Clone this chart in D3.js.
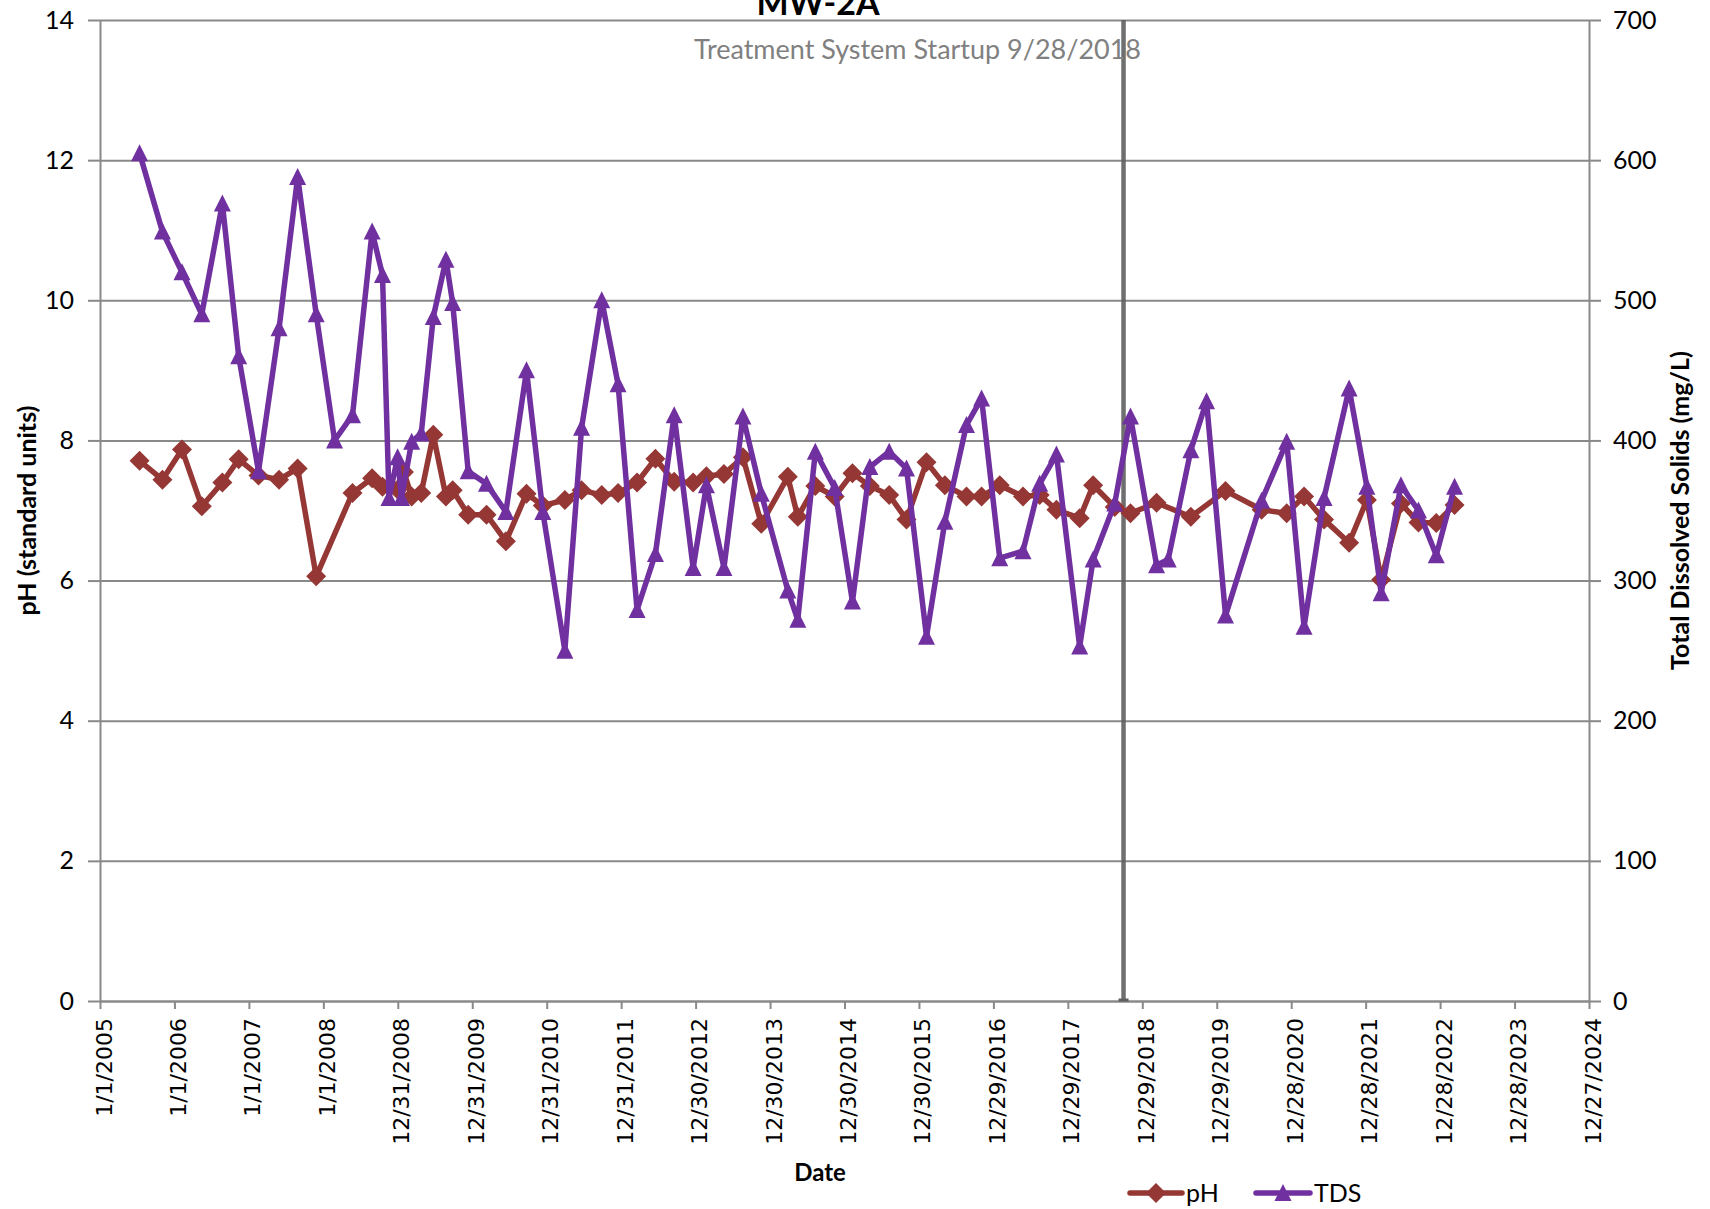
<!DOCTYPE html>
<html><head><meta charset="utf-8">
<script src="https://cdn.jsdelivr.net/npm/d3@7"></script>
<style>html,body{margin:0;padding:0;background:#fff;overflow:hidden}</style>
</head><body>
<svg id="chart" width="1710" height="1209" xmlns="http://www.w3.org/2000/svg"></svg>
<script>
// ---------------- data ----------------
const chartTitle = "MW-2A";
const startupNote = "Treatment System Startup 9/28/2018";
const startupDate = "2018-09-28";

const xTickLabels = ["1/1/2005","1/1/2006","1/1/2007","1/1/2008","12/31/2008","12/31/2009","12/31/2010",
  "12/31/2011","12/30/2012","12/30/2013","12/30/2014","12/30/2015","12/29/2016","12/29/2017",
  "12/29/2018","12/29/2019","12/28/2020","12/28/2021","12/28/2022","12/28/2023","12/27/2024"];
const yLeftTicks = [0,2,4,6,8,10,12,14];
const yRightTicks = [0,100,200,300,400,500,600,700];

const phDates = ["2005-07-14","2005-11-03","2006-02-07","2006-05-15","2006-08-24","2006-11-12","2007-02-17","2007-05-29","2007-08-28","2007-11-27",
  "2008-05-23","2008-08-27","2008-10-17","2008-12-30","2009-01-30","2009-03-09","2009-04-25","2009-06-23","2009-08-24","2009-09-26",
  "2009-12-11","2010-03-11","2010-06-14","2010-09-23","2010-12-12","2011-03-30","2011-06-20","2011-09-27","2011-12-16","2012-03-18",
  "2012-06-16","2012-09-16","2012-12-18","2013-02-21","2013-05-18","2013-08-19","2013-11-17","2014-03-27","2014-05-15","2014-08-09",
  "2014-11-12","2015-02-07","2015-05-03","2015-08-06","2015-10-30","2016-02-05","2016-05-05","2016-08-19","2016-11-01","2017-01-29",
  "2017-05-23","2017-08-13","2017-11-03","2018-02-25","2018-05-02","2018-08-16","2018-11-01","2019-03-09","2019-08-24","2020-02-10",
  "2020-08-05","2020-12-06","2021-03-01","2021-06-07","2021-10-08","2022-01-03","2022-03-14","2022-06-19","2022-09-13","2022-12-09",
  "2023-03-09"];
const phValues = [7.71,7.44,7.87,7.06,7.40,7.73,7.50,7.44,7.60,6.06,
  7.25,7.46,7.34,7.30,7.55,7.20,7.25,8.08,7.20,7.29,
  6.94,6.94,6.56,7.24,7.07,7.15,7.29,7.22,7.25,7.40,
  7.74,7.41,7.40,7.49,7.52,7.76,6.81,7.48,6.91,7.35,
  7.20,7.53,7.35,7.22,6.87,7.69,7.36,7.20,7.20,7.36,
  7.20,7.22,7.01,6.89,7.36,7.05,6.96,7.11,6.91,7.28,
  7.01,6.96,7.20,6.87,6.54,7.15,6.01,7.10,6.83,6.82,
  7.08];

const tdsDates = ["2005-07-14","2005-11-03","2006-02-07","2006-05-15","2006-08-24","2006-11-12","2007-02-17","2007-05-29","2007-08-28","2007-11-27",
  "2008-02-25","2008-05-23","2008-08-27","2008-10-17","2008-11-18","2008-12-30","2009-01-18","2009-03-09","2009-04-25","2009-06-23",
  "2009-08-24","2009-09-26","2009-12-11","2010-03-11","2010-06-14","2010-09-23","2010-12-12","2011-03-30","2011-06-20","2011-09-27",
  "2011-12-16","2012-03-18","2012-06-16","2012-09-16","2012-12-18","2013-02-21","2013-05-18","2013-08-19","2013-11-17","2014-03-27",
  "2014-05-15","2014-08-09","2014-11-12","2015-02-07","2015-05-03","2015-08-06","2015-10-30","2016-02-05","2016-05-05","2016-08-19",
  "2016-11-01","2017-01-29","2017-05-23","2017-08-13","2017-11-03","2018-02-25","2018-05-02","2018-08-16","2018-11-01","2019-03-09",
  "2019-05-05","2019-08-24","2019-11-09","2020-02-10","2020-08-05","2020-12-06","2021-03-01","2021-06-07","2021-10-08","2022-01-03",
  "2022-03-14","2022-06-19","2022-09-13","2022-12-09","2023-03-09"];
const tdsValues = [605,549,520,490,569,460,378,480,588,490,
  400,418,549,518,359,388,359,399,405,488,
  529,498,378,369,349,450,349,250,409,500,
  440,279,319,418,309,368,309,417,362,293,
  272,392,366,285,381,392,380,260,342,411,
  430,316,321,369,390,253,315,355,417,311,
  315,393,428,275,357,399,267,359,437,367,
  291,368,350,318,367];

// ---------------- chart ----------------
const svg = d3.select("#chart");
const L = 100, R = 1589, T = 20, B = 1001;
const gridColor = "#898989";
const phColor = "#953735";
const tdsColor = "#7030A0";
const calibriLike = "Lato, 'Open Sans', sans-serif";

const parseISO = d3.utcParse("%Y-%m-%d");
const parseTick = d3.utcParse("%m/%d/%Y");
const tickDates = xTickLabels.map(parseTick);

const x = d3.scaleUtc().domain([tickDates[0], tickDates[tickDates.length - 1]]).range([L, R]);
const yL = d3.scaleLinear().domain([0, 14]).range([B, T]);
const yR = d3.scaleLinear().domain([0, 700]).range([B, T]);

svg.append("rect").attr("width", 1710).attr("height", 1209).attr("fill", "#fff");

// gridlines
const grid = svg.append("g").attr("transform", `translate(${L},0)`)
  .call(d3.axisLeft(yL).tickValues(yLeftTicks).tickSize(-(R - L)).tickFormat(""));
grid.select(".domain").remove();
grid.selectAll("line").attr("stroke", gridColor).attr("stroke-width", 2);

// left axis
const axL = svg.append("g").attr("transform", `translate(${L},0)`)
  .call(d3.axisLeft(yL).tickValues(yLeftTicks).tickSize(12).tickSizeOuter(0).tickPadding(14));
// right axis
const axR = svg.append("g").attr("transform", `translate(${R},0)`)
  .call(d3.axisRight(yR).tickValues(yRightTicks).tickSize(12).tickSizeOuter(0).tickPadding(12));
// bottom axis
const axB = svg.append("g").attr("transform", `translate(0,${B})`)
  .call(d3.axisBottom(x).tickValues(tickDates).tickSize(8).tickSizeOuter(0)
    .tickFormat((d, i) => xTickLabels[i]));

[axL, axR, axB].forEach(a => {
  a.select(".domain").attr("stroke", gridColor).attr("stroke-width", 2);
  a.selectAll(".tick line").attr("stroke", gridColor).attr("stroke-width", 2);
});
[axL, axR].forEach(a => a.selectAll("text")
  .attr("font-family", calibriLike).attr("font-size", 25).attr("fill", "#000"));
axB.selectAll("text")
  .attr("font-family", "'DejaVu Sans', sans-serif").attr("font-size", 22).attr("fill", "#000")
  .attr("transform", "rotate(-90)").attr("text-anchor", "end")
  .attr("x", -17).attr("y", 0).attr("dy", "0.5em");

// startup line
const xs = x(parseISO(startupDate));
svg.append("line").attr("x1", xs).attr("x2", xs).attr("y1", T).attr("y2", B)
  .attr("stroke", "#5f5f5f").attr("stroke-width", 4.5).attr("stroke-opacity", 0.9);
svg.append("line").attr("x1", xs - 5).attr("x2", xs + 5).attr("y1", B - 1).attr("y2", B - 1)
  .attr("stroke", "#5f5f5f").attr("stroke-width", 3);

// series
const phData = phDates.map((d, i) => ({ date: parseISO(d), v: phValues[i] }));
const tdsData = tdsDates.map((d, i) => ({ date: parseISO(d), v: tdsValues[i] }));
const diamond = "M0,-10L10,0L0,10L-10,0Z";
const triangle = "M0,-9L8.5,8L-8.5,8Z";

svg.append("path").datum(phData)
  .attr("d", d3.line().x(d => x(d.date)).y(d => yL(d.v)))
  .attr("fill", "none").attr("stroke", phColor).attr("stroke-width", 5.5).attr("stroke-linejoin", "round");
svg.append("g").selectAll("path").data(phData).join("path")
  .attr("d", diamond).attr("transform", d => `translate(${x(d.date)},${yL(d.v)})`).attr("fill", phColor);

svg.append("path").datum(tdsData)
  .attr("d", d3.line().x(d => x(d.date)).y(d => yR(d.v)))
  .attr("fill", "none").attr("stroke", tdsColor).attr("stroke-width", 5.5).attr("stroke-linejoin", "round");
svg.append("g").selectAll("path").data(tdsData).join("path")
  .attr("d", triangle).attr("transform", d => `translate(${x(d.date)},${yR(d.v)})`).attr("fill", tdsColor);

// titles
svg.append("text").attr("x", 818).attr("y", 15).attr("text-anchor", "middle")
  .attr("font-family", calibriLike).attr("font-weight", "bold").attr("font-size", 34)
  .text(chartTitle);
svg.append("text").attr("x", 694).attr("y", 59)
  .attr("font-family", calibriLike).attr("font-size", 26).attr("fill", "#808080")
  .attr("textLength", 447).attr("lengthAdjust", "spacingAndGlyphs")
  .text(startupNote);

svg.append("text").attr("transform", `translate(27,${(T + B) / 2}) rotate(-90)`)
  .attr("text-anchor", "middle").attr("dy", "0.35em")
  .attr("font-family", calibriLike).attr("font-weight", "bold").attr("font-size", 25)
  .text("pH (standard units)");
svg.append("text").attr("transform", `translate(1680,${(T + B) / 2}) rotate(-90)`)
  .attr("text-anchor", "middle").attr("dy", "0.35em")
  .attr("font-family", calibriLike).attr("font-weight", "bold").attr("font-size", 25)
  .text("Total Dissolved Solids (mg/L)");
svg.append("text").attr("x", 820).attr("y", 1173).attr("dy", "0.35em").attr("text-anchor", "middle")
  .attr("font-family", calibriLike).attr("font-weight", "bold").attr("font-size", 24)
  .text("Date");

// legend
const legend = [
  { name: "pH", color: phColor, shape: diamond, x0: 1130, x1: 1182 },
  { name: "TDS", color: tdsColor, shape: triangle, x0: 1256, x1: 1310 }
];
const ly = 1193;
const lg = svg.append("g").selectAll("g").data(legend).join("g");
lg.append("line").attr("x1", d => d.x0).attr("x2", d => d.x1).attr("y1", ly).attr("y2", ly)
  .attr("stroke", d => d.color).attr("stroke-width", 5.5).attr("stroke-linecap", "round");
lg.append("path").attr("d", d => d.shape)
  .attr("transform", d => `translate(${(d.x0 + d.x1) / 2},${ly})`).attr("fill", d => d.color);
lg.append("text").attr("x", d => d.x1 + 4).attr("y", ly).attr("dy", "0.35em")
  .attr("font-family", calibriLike).attr("font-size", 25).text(d => d.name);
</script>
</body></html>
